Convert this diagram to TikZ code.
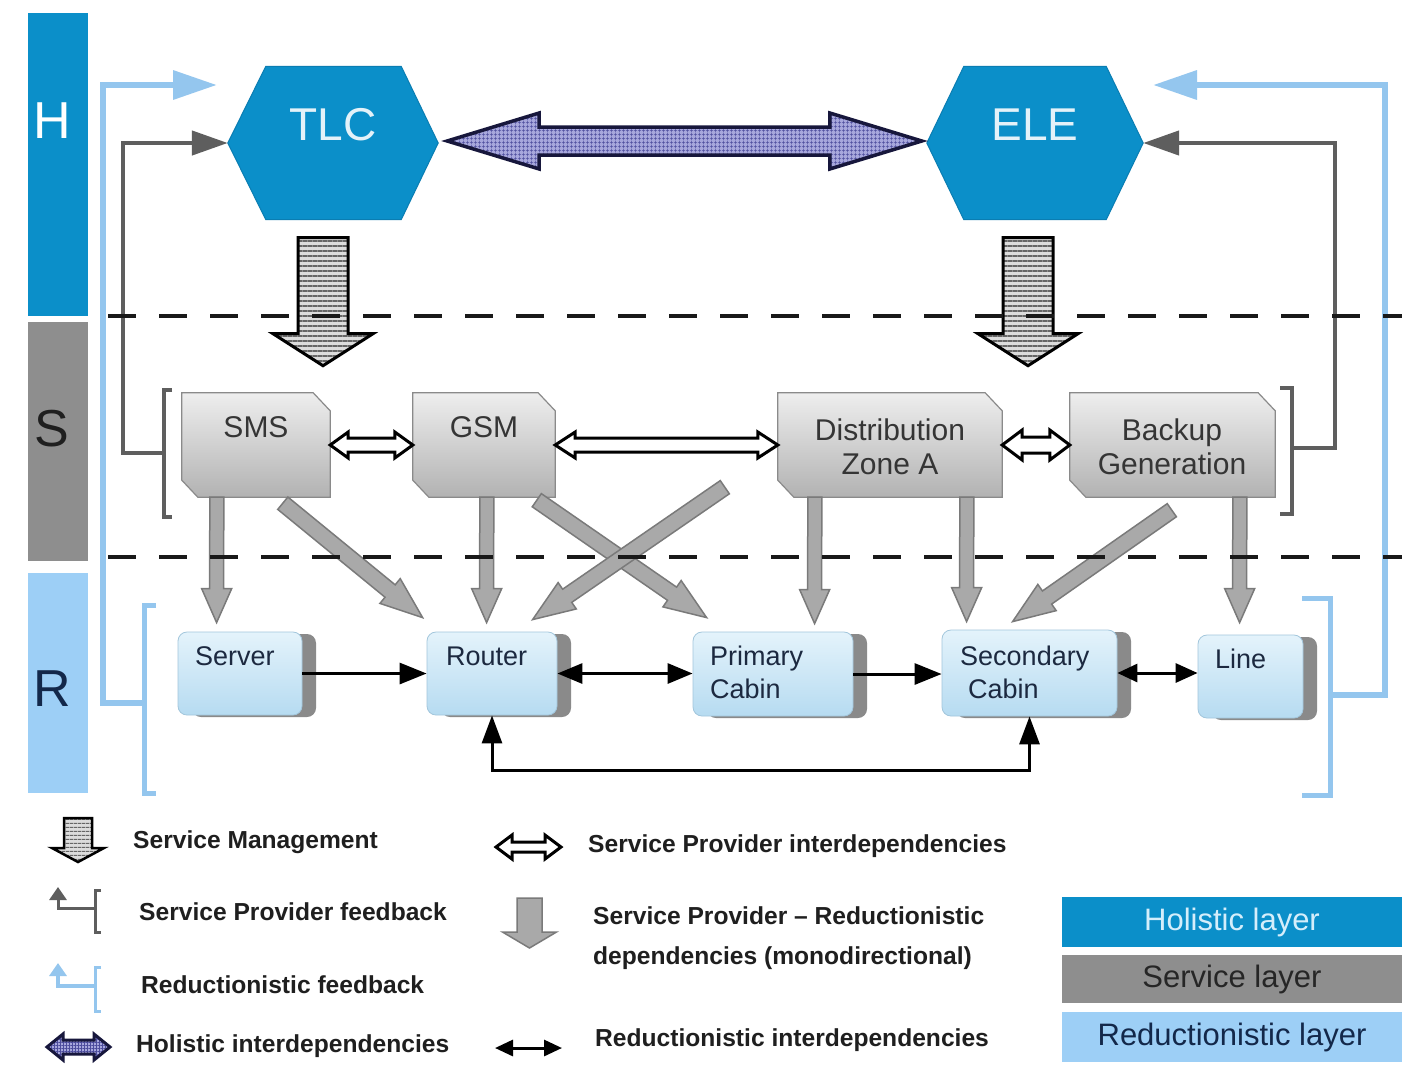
\documentclass[tikz,border=0pt]{standalone}
\usepackage{fontspec}
\setmainfont{Liberation Sans}
\usetikzlibrary{calc,arrows.meta,patterns.meta,shadows}

\definecolor{holblue}{HTML}{0B8FC9}
\definecolor{holedge}{HTML}{0A7DB2}
\definecolor{svcbar}{HTML}{8E8E8E}
\definecolor{redbar}{HTML}{9DCFF6}
\definecolor{fbblue}{HTML}{94C6EE}
\definecolor{fbgray}{HTML}{5E5E5E}
\definecolor{svctop}{HTML}{EEEEEE}
\definecolor{svcbot}{HTML}{B2B2B2}
\definecolor{svcedge}{HTML}{8A8A8A}
\definecolor{svctxt}{HTML}{353535}
\definecolor{restop}{HTML}{E4F3FB}
\definecolor{resbot}{HTML}{B6DBF1}
\definecolor{resedge}{HTML}{A2C6DC}
\definecolor{resshadow}{HTML}{8A8A8A}
\definecolor{restxt}{HTML}{1C2940}
\definecolor{depfill}{HTML}{A9A9A9}
\definecolor{depedge}{HTML}{7A7A7A}
\definecolor{holfill}{HTML}{A7A7DC}
\definecolor{holhatch}{HTML}{4C4C9C}
\definecolor{holline}{HTML}{17173C}
\definecolor{smfill}{HTML}{DCDCDC}
\definecolor{hextxt}{HTML}{E4F2F9}
\definecolor{holtxt}{HTML}{D4EEFB}
\definecolor{rltxt}{HTML}{13284A}

\newcommand{\setfs}[1]{\fontsize{#1pt}{#1pt}\selectfont}

% block arrow from #2 to #3: style #1, shaft half width #4, head half width #5, head length #6
\newcommand{\fatarrow}[6]{%
  \coordinate (fa-h) at ($(#3)!#6!(#2)$);
  \path[#1] ($(#2)!#4!90:(#3)$) -- ($(fa-h)!#4!90:(#3)$) -- ($(fa-h)!#5!90:(#3)$) -- (#3)
    -- ($(fa-h)!#5!-90:(#3)$) -- ($(fa-h)!#4!-90:(#3)$) -- ($(#2)!#4!-90:(#3)$) -- cycle;}

% two-headed block arrow between #2 and #3
\newcommand{\dblarrow}[6]{%
  \coordinate (da-a) at ($(#2)!#6!(#3)$);
  \coordinate (da-b) at ($(#3)!#6!(#2)$);
  \path[#1] (#2) -- ($(da-a)!#5!90:(#3)$) -- ($(da-a)!#4!90:(#3)$) -- ($(da-b)!#4!90:(#3)$)
    -- ($(da-b)!#5!90:(#3)$) -- (#3) -- ($(da-b)!#5!-90:(#3)$) -- ($(da-b)!#4!-90:(#3)$)
    -- ($(da-a)!#4!-90:(#3)$) -- ($(da-a)!#5!-90:(#3)$) -- cycle;}

\begin{document}
\begin{tikzpicture}[x=1pt,y=-1pt,
  letter/.style={font=\setfs{52}, inner sep=0},
  hexph/.style={rectangle, inner sep=0, minimum height=153pt},
  hexfill/.style={fill=holblue, draw=holedge, line width=1},
  hextext/.style={font=\setfs{46}, text=hextxt, inner sep=0},
  svcph/.style={rectangle, inner sep=0, minimum height=104pt},
  svcshape/.style={top color=svctop, bottom color=svcbot, draw=svcedge, line width=1.2},
  svctext/.style={font=\fontsize{30pt}{34pt}\selectfont, text=svctxt, align=center, inner sep=0},
  resbox/.style={rectangle, rounded corners=9pt, inner sep=0, minimum height=84pt,
    draw=resedge, line width=0.8, top color=restop, bottom color=resbot,
    general shadow={fill=resshadow, shadow xshift=14pt, shadow yshift=-2pt}},
  restext/.style={anchor=west, inner sep=0, font=\fontsize{27pt}{33pt}\selectfont, text=restxt, align=left},
  smarrow/.style={preaction={fill=smfill}, pattern={Lines[angle=0,distance=5pt,line width=1.3pt]},
    pattern color=black!60, draw=black, line width=3, line join=miter},
  holarrow/.style={preaction={fill=holfill}, pattern={Hatch[angle=0,distance=4pt,line width=0.7pt]},
    pattern color=holhatch, draw=holline, line width=3.5, line join=miter},
  sparrow/.style={fill=white, draw=black, line width=3, line join=miter},
  deparrow/.style={fill=depfill, draw=depedge, line width=1.5, line join=miter},
  redlink/.style={draw=black, line width=3},
  fbg/.style={draw=fbgray, line width=4.5},
  fbb/.style={draw=fbblue, line width=6.5},
  dashrule/.style={draw=black!90, line width=4, dash pattern=on 28pt off 23pt},
  legtext/.style={anchor=west, inner sep=0, font=\bfseries\setfs{24.6}, text=black!88},
  layerbox/.style={rectangle, minimum width=340pt, minimum height=50pt, inner sep=0, font=\setfs{31}}
]
\useasboundingbox (0,0) rectangle (1402,1066);
\fill[white] (0,0) rectangle (1402,1066);

% layer bars
\fill[holblue] (28,13) rectangle (88,316);
\fill[svcbar] (28,322) rectangle (88,561);
\fill[redbar] (28,573) rectangle (88,793);
\node[letter, text=white] (barH) at (52,121) {H};
\node[letter, text=black!88] (barS) at (52,429) {S};
\node[letter, text=rltxt] (barR) at (52,689) {R};

% holistic providers
\node[hexph, minimum width=210pt] (tlc) at (333,143) {};
\path[hexfill] (tlc.west) -- ($(tlc.north west)+(38,0)$) -- ($(tlc.north east)+(-37,0)$) -- (tlc.east)
  -- ($(tlc.south east)+(-37,0)$) -- ($(tlc.south west)+(38,0)$) -- cycle;
\node[hextext] (tlcT) at (333,125) {TLC};
\node[hexph, minimum width=216pt] (ele) at (1035,143) {};
\path[hexfill] (ele.west) -- ($(ele.north west)+(37,0)$) -- ($(ele.north east)+(-37,0)$) -- (ele.east)
  -- ($(ele.south east)+(-37,0)$) -- ($(ele.south west)+(37,0)$) -- cycle;
\node[hextext] (eleT) at (1035,125) {ELE};

% holistic interdependency
\coordinate (hol-a) at ($(tlc.east)+(9,-2)$);
\coordinate (hol-b) at ($(ele.west)+(-5,-2)$);
\dblarrow{holarrow}{hol-a}{hol-b}{14pt}{28pt}{92pt}

% service boxes
\node[svcph, minimum width=148pt] (sms) at (256,445) {};
\node[svcph, minimum width=142pt] (gsm) at (484,445) {};
\node[svcph, minimum width=224pt] (dza) at (890,445) {};
\node[svcph, minimum width=205pt] (bkg) at (1172.5,445) {};
\foreach \b in {sms,gsm,dza,bkg}{
  \path[svcshape] (\b.north west) -- ($(\b.north east)+(-17,0)$) -- ($(\b.north east)+(0,18)$)
    -- (\b.south east) -- ($(\b.south west)+(16,0)$) -- ($(\b.south west)+(0,-17)$) -- cycle;
}
\node[svctext] (smsT) at (256,427) {SMS};
\node[svctext] (gsmT) at (484,427) {GSM};
\node[svctext] (dzaT) at (890,447) {Distribution\\Zone A};
\node[svctext] (bkgT) at (1172,447) {Backup\\Generation};

% service management
\coordinate (sm1a) at ($(tlc.south)+(-10,18)$);
\coordinate (sm1b) at ($(tlc.south)+(-10,146)$);
\fatarrow{smarrow}{sm1a}{sm1b}{25pt}{50pt}{32pt}
\coordinate (sm2a) at ($(ele.south)+(-7,18)$);
\coordinate (sm2b) at ($(ele.south)+(-7,146)$);
\fatarrow{smarrow}{sm2a}{sm2b}{25pt}{50pt}{32pt}

% service provider interdependencies
\dblarrow{sparrow}{sms.east}{gsm.west}{7pt}{13pt}{18pt}
\dblarrow{sparrow}{gsm.east}{dza.west}{7pt}{13pt}{20pt}
\dblarrow{sparrow}{dza.east}{bkg.west}{8pt}{15pt}{20pt}

% feedback connectors
\draw[fbg] (172,390) -- (164,390) -- (164,517) -- (172,517);
\coordinate (sbl) at (164,453);
\draw[fbg, -{Triangle[length=36pt,width=24pt]}] (sbl) -- ++(-41,0) |- (tlc.west);
\draw[fbg] (1280,388) -- (1292,388) -- (1292,514) -- (1280,514);
\coordinate (sbr) at (1292,448);
\draw[fbg, -{Triangle[length=36pt,width=24pt]}] (sbr) -- ++(43,0) |- (ele.east);

\draw[fbb, line width=5] (156,605) -- (144,605) -- (144,793) -- (156,793);
\coordinate (rbl) at (144,703);
\coordinate (fbl-end) at (217,85);
\draw[fbb, -{Triangle[length=44pt,width=28pt]}] (rbl) -- ++(-41,0) |- (fbl-end);
\draw[fbb, line width=5] (1302,598) -- (1330,598) -- (1330,795) -- (1302,795);
\coordinate (rbr) at (1330,695);
\coordinate (fbr-end) at (1153,85);
\draw[fbb, -{Triangle[length=44pt,width=28pt]}] (rbr) -- ++(55,0) |- (fbr-end);

% resources
\node[resbox, minimum width=124pt, minimum height=83pt] (server) at (240,673.5) {};
\node[resbox, minimum width=130pt, minimum height=83pt] (router) at (492,673.5) {};
\node[resbox, minimum width=160pt] (pcab) at (773,674) {};
\node[resbox, minimum width=175pt, minimum height=86pt] (scab) at (1029.5,673) {};
\node[resbox, minimum width=105pt, minimum height=83pt] (line) at (1250.5,676.5) {};
\node[restext] (serverT) at (195,656) {Server};
\node[restext] (routerT) at (446,656) {Router};
\node[restext] (pcabT) at (710,672) {Primary\\Cabin};
\node[restext] (scabT) at (960,672) {Secondary\\\hspace*{8pt}Cabin};
\node[restext] (lineT) at (1215,659) {Line};

% reductionistic interdependencies
\draw[redlink, -{Triangle[length=27pt,width=21pt]}] (server.east) -- (server.east -| router.west);
\draw[redlink, {Triangle[length=25pt,width=20pt]}-{Triangle[length=25pt,width=20pt]}] (router.east) -- (router.east -| pcab.west);
\draw[redlink, -{Triangle[length=27pt,width=21pt]}] (pcab.east) -- (pcab.east -| scab.west);
\draw[redlink, {Triangle[length=20pt,width=18pt]}-{Triangle[length=22pt,width=19pt]}] (scab.east) -- (scab.east -| line.west);
\draw[redlink, {Triangle[length=28pt,width=20pt]}-{Triangle[length=28pt,width=20pt]}] (router.south) -- ++(0,55) -| (scab.south);

% service provider - reductionistic dependencies
\coordinate (d1a) at ($(sms.south west)+(35,0)$);
\coordinate (d1b) at ($(server.north west)+(39,-9)$);
\fatarrow{deparrow}{d1a}{d1b}{7pt}{15pt}{34pt}
\coordinate (d2a) at ($(sms.south west)+(101,6)$);
\coordinate (d2b) at ($(router.north west)+(-4,-14)$);
\fatarrow{deparrow}{d2a}{d2b}{8pt}{16pt}{42pt}
\coordinate (d3a) at ($(gsm.south west)+(74,0)$);
\coordinate (d3b) at ($(router.north west)+(60,-9)$);
\fatarrow{deparrow}{d3a}{d3b}{7pt}{15pt}{34pt}
\coordinate (d4a) at ($(gsm.south west)+(124,3)$);
\coordinate (d4b) at ($(pcab.north west)+(14,-14)$);
\fatarrow{deparrow}{d4a}{d4b}{8pt}{16pt}{42pt}
\coordinate (d5a) at ($(dza.south west)+(-53,-10)$);
\coordinate (d5b) at ($(router.north west)+(106,-12)$);
\fatarrow{deparrow}{d5a}{d5b}{8pt}{16pt}{42pt}
\coordinate (d6a) at ($(dza.south west)+(37,0)$);
\coordinate (d6b) at ($(pcab.north west)+(122,-8)$);
\fatarrow{deparrow}{d6a}{d6b}{7pt}{15pt}{34pt}
\coordinate (d7a) at ($(dza.south west)+(189,0)$);
\coordinate (d7b) at ($(scab.north west)+(25,-8)$);
\fatarrow{deparrow}{d7a}{d7b}{7pt}{15pt}{34pt}
\coordinate (d8a) at ($(bkg.south west)+(102,13)$);
\coordinate (d8b) at ($(scab.north west)+(71,-8)$);
\fatarrow{deparrow}{d8a}{d8b}{8pt}{16pt}{42pt}
\coordinate (d9a) at ($(bkg.south west)+(170,0)$);
\coordinate (d9b) at ($(line.north west)+(42,-12)$);
\fatarrow{deparrow}{d9a}{d9b}{7pt}{15pt}{34pt}

% layer boundaries
\draw[dashrule] (108,316) -- (1402,316);
\draw[dashrule] (108,557) -- (1402,557);

% legend
\coordinate (lg1a) at (78,818);
\coordinate (lg1b) at (78,862);
\fatarrow{smarrow, line width=2.5, pattern={Lines[angle=0,distance=4pt,line width=1pt]}}{lg1a}{lg1b}{14pt}{26pt}{14pt}
\node[legtext] (lgT1) at (133,842) {Service Management};

\draw[fbg, line width=3, -{Triangle[length=13pt,width=17pt]}] (95,908) -- (58,908) -- (58,887);
\draw[fbg, line width=3] (101,890) -- (95,890) -- (95,932) -- (101,932);
\node[legtext] (lgT2) at (139,912) {Service Provider feedback};

\draw[fbb, line width=3.5, -{Triangle[length=13pt,width=17pt]}] (95,986) -- (58,986) -- (58,963);
\draw[fbb, line width=3] (101,967) -- (95,967) -- (95,1011) -- (101,1011);
\node[legtext] (lgT3) at (141,985) {Reductionistic feedback};

\coordinate (lg4a) at (47,1047);
\coordinate (lg4b) at (110,1047);
\dblarrow{holarrow, line width=3, pattern={Hatch[angle=0,distance=3pt,line width=0.6pt]}}{lg4a}{lg4b}{7pt}{13pt}{16pt}
\node[legtext] (lgT4) at (136,1046) {Holistic interdependencies};

\coordinate (lg5a) at (496,847);
\coordinate (lg5b) at (561,847);
\dblarrow{sparrow}{lg5a}{lg5b}{5pt}{12pt}{16pt}
\node[legtext] (lgT5) at (588,846) {Service Provider interdependencies};

\coordinate (lg6a) at (529.5,898);
\coordinate (lg6b) at (529.5,948);
\fatarrow{deparrow}{lg6a}{lg6b}{12.5pt}{27pt}{16pt}
\node[legtext] (lgT6) at (593,916) {Service Provider -- Reductionistic};
\node[legtext] (lgT7) at (593,958) {dependencies (monodirectional)};

\coordinate (lg7a) at (495,1048);
\coordinate (lg7b) at (562,1048);
\draw[redlink, {Triangle[length=18pt,width=16pt]}-{Triangle[length=18pt,width=16pt]}] (lg7a) -- (lg7b);
\node[legtext] (lgT8) at (595,1040) {Reductionistic interdependencies};

\node[layerbox, fill=holblue, text=holtxt] (lyH) at (1232,922) {Holistic layer};
\node[layerbox, fill=svcbar, text=black!85, minimum height=48pt] (lyS) at (1232,979) {Service layer};
\node[layerbox, fill=redbar, text=rltxt] (lyR) at (1232,1037) {Reductionistic layer};
\end{tikzpicture}
\end{document}
